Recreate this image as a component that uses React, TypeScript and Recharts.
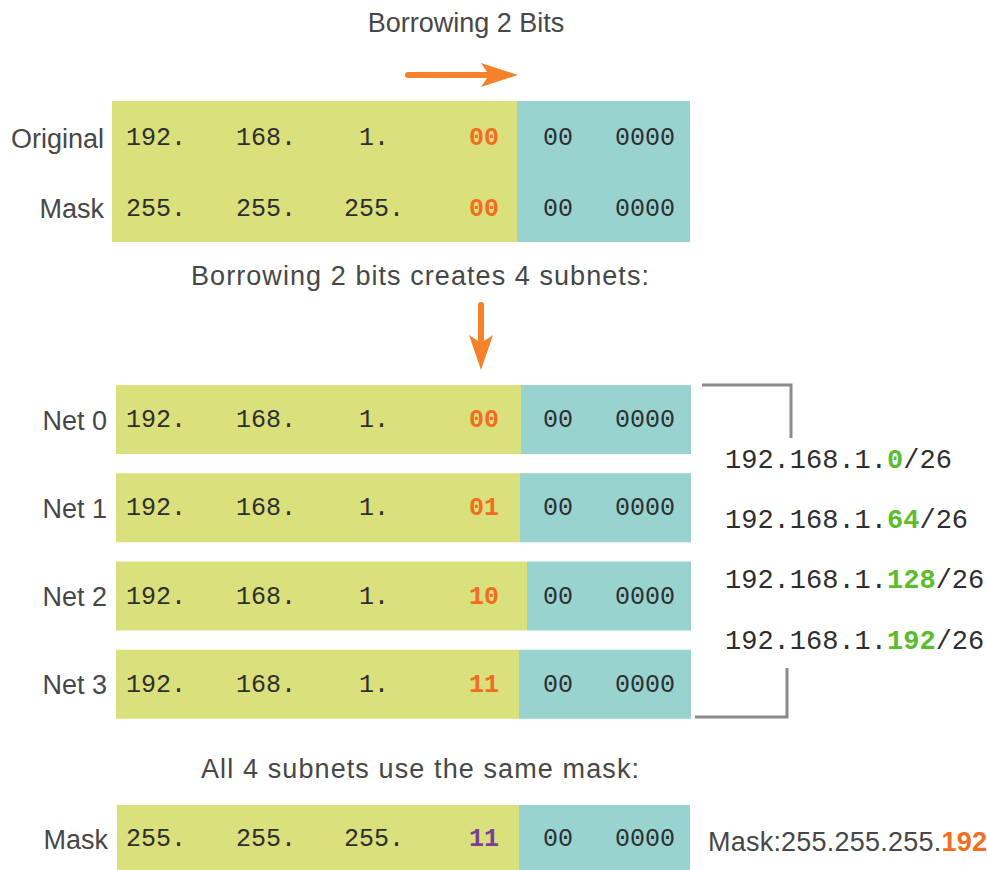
import { BarChart, Bar, XAxis, YAxis } from 'recharts';

// colours
const GREEN = '#dae07c';
const TEAL = '#98d3d0';
const ORANGE = '#f26d21';
const ARROW = '#f5822a';
const PURPLE = '#7b3f98';
const LIME = '#5cbd2c';
const LABEL = '#474747';
const DIGIT = '#2e2e2e';
const SANS = '"Liberation Sans", Arial, sans-serif';
const MONO = '"Liberation Mono", "DejaVu Sans Mono", monospace';

// top block: original address and its mask
const topLabels = ['Original', 'Mask'];
const topOctets = [['192.', '168.', '1.'], ['255.', '255.', '255.']];
const topBorrowed = ['00', '00'];
const topNetWidth = [405, 405];
const topHostWidth = [173, 173];

// the four subnets
const netLabels = ['Net 0', 'Net 1', 'Net 2', 'Net 3'];
const netOctets = ['192.', '168.', '1.'];
const netBorrowed = ['00', '01', '10', '11'];
const netNetWidth = [405, 404, 411, 403];
const netHostWidth = [170, 171, 164, 172];

// shared mask at the bottom
const maskLabels = ['Mask'];
const maskOctets = ['255.', '255.', '255.'];
const maskBorrowed = ['11'];
const maskNetWidth = [402];
const maskHostWidth = [171];

const hostBits = ['00', '0000'];
const subnetPrefix = '192.168.1.';
const subnetHosts = ['0', '64', '128', '192'];
const subnetSuffix = '/26';

type Row = {
  label: string;
  octets: string[];
  borrowed: string;
  net: number;
  host: number;
};

const topRows: Row[] = topLabels.map((label, i) => ({
  label,
  octets: topOctets[i],
  borrowed: topBorrowed[i],
  net: topNetWidth[i],
  host: topHostWidth[i],
}));

const netRows: Row[] = netLabels.map((label, i) => ({
  label,
  octets: netOctets,
  borrowed: netBorrowed[i],
  net: netNetWidth[i],
  host: netHostWidth[i],
}));

const maskRows: Row[] = maskLabels.map((label, i) => ({
  label,
  octets: maskOctets,
  borrowed: maskBorrowed[i],
  net: maskNetWidth[i],
  host: maskHostWidth[i],
}));

// column centres of the bit strings (page x)
const OCTET_X = [156, 266, 374];
const BITS_X = 484;
const HOST_X = [558, 645];

const monoText = {
  fontFamily: MONO,
  fontSize: 25,
  fill: DIGIT,
};

const netShape = (bitColor: string, dy: number) => (props: any) => {
  const { x, y, width, height, payload } = props;
  const cy = y + height / 2 + dy;
  return (
    <g>
      <rect x={x} y={y} width={width} height={height} fill={GREEN} />
      {payload.octets.map((o: string, i: number) => (
        <text key={i} x={OCTET_X[i]} y={cy} textAnchor="middle" dominantBaseline="central" {...monoText}>
          {o}
        </text>
      ))}
      <text
        x={BITS_X}
        y={cy}
        textAnchor="middle"
        dominantBaseline="central"
        {...monoText}
        fill={bitColor}
        fontWeight="bold"
      >
        {payload.borrowed}
      </text>
    </g>
  );
};

const hostShape = (dy: number) => (props: any) => {
  const { x, y, width, height } = props;
  const cy = y + height / 2 + dy;
  return (
    <g>
      <rect x={x} y={y} width={width} height={height} fill={TEAL} />
      {hostBits.map((b, i) => (
        <text key={i} x={HOST_X[i]} y={cy} textAnchor="middle" dominantBaseline="central" {...monoText}>
          {b}
        </text>
      ))}
    </g>
  );
};

interface BitChartProps {
  rows: Row[];
  top: number;
  height: number;
  axisWidth: number;
  plotWidth: number;
  tickMargin: number;
  barSize?: number;
  bitColor: string;
  dy: number;
}

function BitChart({ rows, top, height, axisWidth, plotWidth, tickMargin, barSize, bitColor, dy }: BitChartProps) {
  return (
    <div style={{ position: 'absolute', left: 0, top, width: axisWidth + plotWidth, height }}>
      <BarChart
        width={axisWidth + plotWidth}
        height={height}
        data={rows}
        layout="vertical"
        margin={{ top: 0, right: 0, bottom: 0, left: 0 }}
        barCategoryGap={0}
        barSize={barSize}
      >
        <XAxis type="number" hide domain={[0, plotWidth]} />
        <YAxis
          type="category"
          dataKey="label"
          width={axisWidth}
          tickLine={false}
          axisLine={false}
          tickMargin={tickMargin}
          interval={0}
          tick={{ fill: LABEL, fontSize: 27, fontFamily: SANS, dy }}
        />
        <Bar dataKey="net" stackId="row" fill={GREEN} isAnimationActive={false} shape={netShape(bitColor, dy)} />
        <Bar dataKey="host" stackId="row" fill={TEAL} isAnimationActive={false} shape={hostShape(dy)} />
      </BarChart>
    </div>
  );
}

const SUBNET_Y = [461, 521, 581, 642];

export default function App() {
  return (
    <div
      style={{
        position: 'absolute',
        left: 0,
        top: 0,
        width: 987,
        height: 870,
        overflow: 'hidden',
        background: '#fff',
      }}
    >
      <BitChart rows={topRows} top={101} height={141} axisWidth={112} plotWidth={578} tickMargin={2} bitColor={ORANGE} dy={2} />
      <BitChart rows={netRows} top={375} height={353} axisWidth={116} plotWidth={575} tickMargin={3} barSize={69} bitColor={ORANGE} dy={1} />
      <BitChart rows={maskRows} top={805} height={65} axisWidth={117} plotWidth={573} tickMargin={3} bitColor={PURPLE} dy={2} />

      <svg
        width={987}
        height={870}
        style={{ position: 'absolute', left: 0, top: 0, pointerEvents: 'none' }}
      >
        <g fontFamily={SANS} fontSize={27} fill={LABEL} textAnchor="middle">
          <text x={466} y={32}>Borrowing 2 Bits</text>
          <text x={420} y={285} textLength={458} lengthAdjust="spacing">
            Borrowing 2 bits creates 4 subnets:
          </text>
          <text x={420} y={778} textLength={438} lengthAdjust="spacing">
            All 4 subnets use the same mask:
          </text>
        </g>

        {/* arrows */}
        <line x1={408} y1={75} x2={490} y2={75} stroke={ARROW} strokeWidth={6} strokeLinecap="round" />
        <polygon points="481,63 518,75 481,87 489,75" fill={ARROW} />
        <line x1={481} y1={305} x2={481} y2={342} stroke={ARROW} strokeWidth={6} strokeLinecap="round" />
        <polygon points="469,335 481,370 493,335 481,343" fill={ARROW} />

        {/* bracket */}
        <polyline points="702,385 791,385 791,438" fill="none" stroke="#8c8c8c" strokeWidth={3} />
        <polyline points="787,668 787,717 695,717" fill="none" stroke="#8c8c8c" strokeWidth={3} />

        {subnetHosts.map((h, i) => (
          <text
            key={h}
            x={725}
            y={SUBNET_Y[i]}
            dominantBaseline="central"
            fontFamily={MONO}
            fontSize={27}
            fill={DIGIT}
          >
            {subnetPrefix}
            <tspan fill={LIME} fontWeight="bold">
              {h}
            </tspan>
            {subnetSuffix}
          </text>
        ))}

        <text x={708} y={851} fontFamily={SANS} fontSize={27} fill={LABEL} textLength={279} lengthAdjust="spacing">
          Mask:255.255.255.
          <tspan fill={ORANGE} fontWeight="bold">
            192
          </tspan>
        </text>
      </svg>
    </div>
  );
}
